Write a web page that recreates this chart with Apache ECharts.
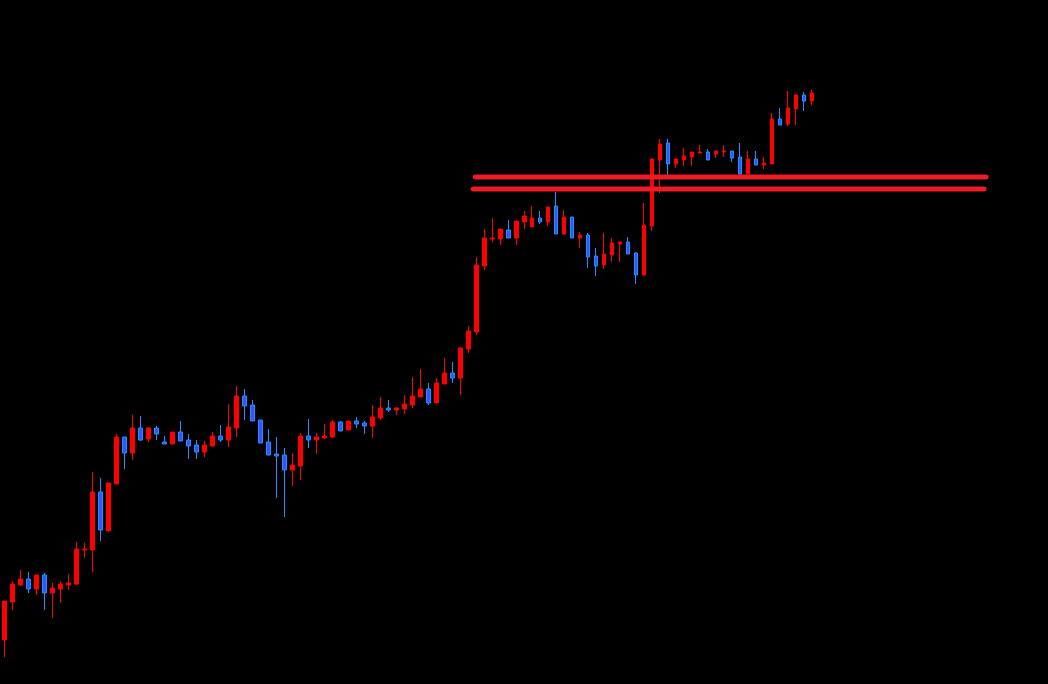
<!DOCTYPE html>
<html>
<head>
<meta charset="utf-8">
<style>
  html, body { margin: 0; padding: 0; background: #000; }
  #chart { width: 1048px; height: 684px; }
</style>
<script src="https://cdn.jsdelivr.net/npm/echarts@6/dist/echarts.min.js"></script>
</head>
<body>
<div id="chart"></div>
<script>
// candles: [open, close, low, high]
var candles = [
  [44, 83, 27, 83], [82, 100, 74, 103], [99, 105, 98, 114], [105, 95, 91, 112],
  [95, 109, 89, 109], [109, 91, 74, 111], [91, 96, 66, 101], [95, 100, 81, 103],
  [99, 101, 94, 110], [100, 135, 99, 142], [134, 135, 126, 141], [134, 192, 112, 212],
  [192, 154, 143, 206], [153, 201, 153, 201], [200, 247, 200, 250], [247, 231, 215, 247],
  [231, 256, 224, 269], [256, 244, 243, 268], [245, 256, 242, 257], [256, 250, 244, 258],
  [242, 240, 240, 248], [240, 252, 240, 252], [252, 243, 243, 263], [244, 238, 225, 250],
  [239, 232, 225, 244], [232, 239, 227, 243], [238, 248, 237, 252], [248, 244, 242, 259],
  [244, 257, 237, 280], [256, 288, 247, 298], [288, 278, 264, 295], [279, 263, 263, 284],
  [264, 241, 241, 264], [242, 229, 229, 255], [230, 228, 186, 247], [229, 214, 167, 236],
  [214, 219, 198, 231], [218, 248, 204, 251], [248, 244, 236, 265], [244, 247, 230, 251],
  [246, 248, 245, 260], [247, 262, 246, 264], [262, 253, 253, 263], [254, 263, 254, 263],
  [263, 260, 256, 267], [261, 258, 250, 263], [258, 267, 246, 279], [266, 276, 264, 287],
  [276, 274, 272, 284], [274, 276, 269, 277], [275, 280, 270, 289], [279, 288, 276, 307],
  [287, 295, 287, 315], [295, 281, 279, 301], [281, 301, 281, 306], [300, 311, 300, 326],
  [311, 306, 301, 322], [306, 336, 289, 337], [335, 353, 331, 358], [352, 419, 349, 427],
  [418, 446, 414, 455], [445, 446, 442, 466], [445, 455, 439, 455], [454, 446, 446, 464],
  [446, 463, 439, 463], [462, 468, 455, 473], [457, 466, 457, 478], [466, 462, 460, 473],
  [462, 477, 458, 477], [478, 450, 450, 492], [450, 467, 449, 474], [467, 446, 446, 467],
  [446, 449, 436, 452], [449, 427, 416, 451], [428, 418, 408, 436], [419, 430, 415, 451],
  [429, 441, 422, 446], [440, 442, 422, 442], [442, 430, 430, 447], [431, 409, 400, 432],
  [409, 459, 408, 481], [458, 525, 453, 526], [524, 540, 491, 545], [541, 520, 509, 545],
  [520, 525, 516, 526], [524, 528, 518, 536], [527, 532, 518, 532], [531, 532, 530, 539],
  [532, 524, 524, 535], [530, 533, 526, 533], [532, 533, 527, 539], [533, 526, 522, 533],
  [527, 510, 509, 541], [510, 525, 510, 533], [525, 519, 519, 533], [519, 521, 515, 527],
  [520, 565, 520, 571], [565, 559, 559, 576], [560, 576, 558, 593], [575, 589, 559, 590],
  [589, 583, 573, 592], [583, 591, 579, 594]
];

// two resistance lines: [startBar, endBar, level]
var levelUpper = [59.375, 123.25, 507];
var levelLower = [59.125, 123.0, 495];

var totalSlots = 131;
var categories = [];
for (var i = 0; i < totalSlots; i++) {
  categories.push(String(i + 1));
}

var chart = echarts.init(document.getElementById('chart'));

var option = {
  backgroundColor: '#000000',
  animation: false,
  grid: { left: 0.5, right: -0.5, top: 0, bottom: 0 },
  xAxis: [
    {
      type: 'category',
      data: categories,
      boundaryGap: true,
      show: false
    },
    {
      type: 'value',
      min: 0,
      max: totalSlots,
      show: false
    }
  ],
  yAxis: {
    type: 'value',
    min: 0,
    max: 684,
    show: false,
    splitLine: { show: false }
  },
  series: [
    {
      type: 'candlestick',
      data: candles,
      barWidth: 4,
      itemStyle: {
        color: '#ff0000',
        color0: '#3355ff',
        borderColor: '#ff0000',
        borderColor0: '#1e90ff',
        borderWidth: 1
      }
    },
    {
      type: 'line',
      xAxisIndex: 1,
      symbol: 'none',
      data: [[levelUpper[0], levelUpper[2]], [levelUpper[1], levelUpper[2]]],
      lineStyle: { color: '#ed1c24', width: 5, cap: 'round' },
      silent: true
    },
    {
      type: 'line',
      xAxisIndex: 1,
      symbol: 'none',
      data: [[levelLower[0], levelLower[2]], [levelLower[1], levelLower[2]]],
      lineStyle: { color: '#ed1c24', width: 5, cap: 'round' },
      silent: true
    }
  ]
};

chart.setOption(option);
window.addEventListener('resize', chart.resize);
</script>
</body>
</html>
